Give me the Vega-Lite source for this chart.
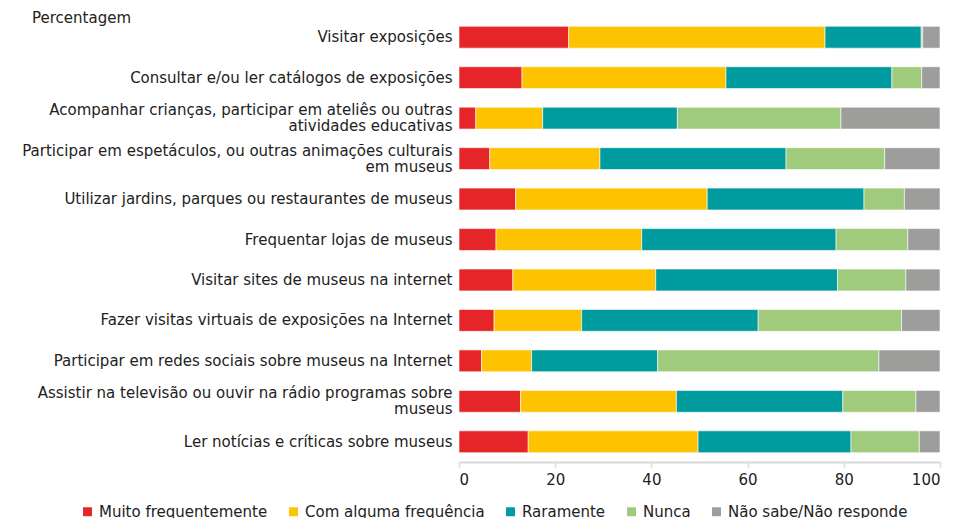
{
  "$schema": "https://vega.github.io/schema/vega-lite/v6.json",
  "width": 481,
  "height": 445,
  "autosize": {"type": "none"},
  "padding": {"left": 459, "top": 17, "right": 15, "bottom": 56},
  "background": "white",
  "title": {
    "text": "Percentagem",
    "anchor": "start",
    "frame": "group",
    "dx": -427,
    "dy": 16,
    "offset": 0,
    "baseline": "middle",
    "font": "DejaVu Sans",
    "fontSize": 15,
    "fontWeight": "normal",
    "color": "#222222"
  },
  "data": {
    "values": [
      {"atividade": "Visitar exposições", "resposta": "Muito frequentemente", "n": 1, "pct": 22.8},
      {"atividade": "Visitar exposições", "resposta": "Com alguma frequência", "n": 2, "pct": 53.3},
      {"atividade": "Visitar exposições", "resposta": "Raramente", "n": 3, "pct": 20.0},
      {"atividade": "Visitar exposições", "resposta": "Nunca", "n": 4, "pct": 0.3},
      {"atividade": "Visitar exposições", "resposta": "Não sabe/Não responde", "n": 5, "pct": 3.6},

      {"atividade": "Consultar e/ou ler catálogos de exposições", "resposta": "Muito frequentemente", "n": 1, "pct": 13.1},
      {"atividade": "Consultar e/ou ler catálogos de exposições", "resposta": "Com alguma frequência", "n": 2, "pct": 42.4},
      {"atividade": "Consultar e/ou ler catálogos de exposições", "resposta": "Raramente", "n": 3, "pct": 34.5},
      {"atividade": "Consultar e/ou ler catálogos de exposições", "resposta": "Nunca", "n": 4, "pct": 6.2},
      {"atividade": "Consultar e/ou ler catálogos de exposições", "resposta": "Não sabe/Não responde", "n": 5, "pct": 3.8},

      {"atividade": "Acompanhar crianças, participar em ateliês ou outras\natividades educativas", "resposta": "Muito frequentemente", "n": 1, "pct": 3.5},
      {"atividade": "Acompanhar crianças, participar em ateliês ou outras\natividades educativas", "resposta": "Com alguma frequência", "n": 2, "pct": 13.9},
      {"atividade": "Acompanhar crianças, participar em ateliês ou outras\natividades educativas", "resposta": "Raramente", "n": 3, "pct": 28.0},
      {"atividade": "Acompanhar crianças, participar em ateliês ou outras\natividades educativas", "resposta": "Nunca", "n": 4, "pct": 34.0},
      {"atividade": "Acompanhar crianças, participar em ateliês ou outras\natividades educativas", "resposta": "Não sabe/Não responde", "n": 5, "pct": 20.6},

      {"atividade": "Participar em espetáculos, ou outras animações culturais\nem museus", "resposta": "Muito frequentemente", "n": 1, "pct": 6.4},
      {"atividade": "Participar em espetáculos, ou outras animações culturais\nem museus", "resposta": "Com alguma frequência", "n": 2, "pct": 22.9},
      {"atividade": "Participar em espetáculos, ou outras animações culturais\nem museus", "resposta": "Raramente", "n": 3, "pct": 38.7},
      {"atividade": "Participar em espetáculos, ou outras animações culturais\nem museus", "resposta": "Nunca", "n": 4, "pct": 20.5},
      {"atividade": "Participar em espetáculos, ou outras animações culturais\nem museus", "resposta": "Não sabe/Não responde", "n": 5, "pct": 11.5},

      {"atividade": "Utilizar jardins, parques ou restaurantes de museus", "resposta": "Muito frequentemente", "n": 1, "pct": 11.8},
      {"atividade": "Utilizar jardins, parques ou restaurantes de museus", "resposta": "Com alguma frequência", "n": 2, "pct": 39.8},
      {"atividade": "Utilizar jardins, parques ou restaurantes de museus", "resposta": "Raramente", "n": 3, "pct": 32.6},
      {"atividade": "Utilizar jardins, parques ou restaurantes de museus", "resposta": "Nunca", "n": 4, "pct": 8.4},
      {"atividade": "Utilizar jardins, parques ou restaurantes de museus", "resposta": "Não sabe/Não responde", "n": 5, "pct": 7.4},

      {"atividade": "Frequentar lojas de museus", "resposta": "Muito frequentemente", "n": 1, "pct": 7.7},
      {"atividade": "Frequentar lojas de museus", "resposta": "Com alguma frequência", "n": 2, "pct": 30.3},
      {"atividade": "Frequentar lojas de museus", "resposta": "Raramente", "n": 3, "pct": 40.4},
      {"atividade": "Frequentar lojas de museus", "resposta": "Nunca", "n": 4, "pct": 14.9},
      {"atividade": "Frequentar lojas de museus", "resposta": "Não sabe/Não responde", "n": 5, "pct": 6.7},

      {"atividade": "Visitar sites de museus na internet", "resposta": "Muito frequentemente", "n": 1, "pct": 11.2},
      {"atividade": "Visitar sites de museus na internet", "resposta": "Com alguma frequência", "n": 2, "pct": 29.7},
      {"atividade": "Visitar sites de museus na internet", "resposta": "Raramente", "n": 3, "pct": 37.8},
      {"atividade": "Visitar sites de museus na internet", "resposta": "Nunca", "n": 4, "pct": 14.2},
      {"atividade": "Visitar sites de museus na internet", "resposta": "Não sabe/Não responde", "n": 5, "pct": 7.1},

      {"atividade": "Fazer visitas virtuais de exposições na Internet", "resposta": "Muito frequentemente", "n": 1, "pct": 7.3},
      {"atividade": "Fazer visitas virtuais de exposições na Internet", "resposta": "Com alguma frequência", "n": 2, "pct": 18.2},
      {"atividade": "Fazer visitas virtuais de exposições na Internet", "resposta": "Raramente", "n": 3, "pct": 36.7},
      {"atividade": "Fazer visitas virtuais de exposições na Internet", "resposta": "Nunca", "n": 4, "pct": 29.8},
      {"atividade": "Fazer visitas virtuais de exposições na Internet", "resposta": "Não sabe/Não responde", "n": 5, "pct": 8.0},

      {"atividade": "Participar em redes sociais sobre museus na Internet", "resposta": "Muito frequentemente", "n": 1, "pct": 4.7},
      {"atividade": "Participar em redes sociais sobre museus na Internet", "resposta": "Com alguma frequência", "n": 2, "pct": 10.4},
      {"atividade": "Participar em redes sociais sobre museus na Internet", "resposta": "Raramente", "n": 3, "pct": 26.2},
      {"atividade": "Participar em redes sociais sobre museus na Internet", "resposta": "Nunca", "n": 4, "pct": 46.0},
      {"atividade": "Participar em redes sociais sobre museus na Internet", "resposta": "Não sabe/Não responde", "n": 5, "pct": 12.7},

      {"atividade": "Assistir na televisão ou ouvir na rádio programas sobre\nmuseus", "resposta": "Muito frequentemente", "n": 1, "pct": 12.8},
      {"atividade": "Assistir na televisão ou ouvir na rádio programas sobre\nmuseus", "resposta": "Com alguma frequência", "n": 2, "pct": 32.4},
      {"atividade": "Assistir na televisão ou ouvir na rádio programas sobre\nmuseus", "resposta": "Raramente", "n": 3, "pct": 34.6},
      {"atividade": "Assistir na televisão ou ouvir na rádio programas sobre\nmuseus", "resposta": "Nunca", "n": 4, "pct": 15.2},
      {"atividade": "Assistir na televisão ou ouvir na rádio programas sobre\nmuseus", "resposta": "Não sabe/Não responde", "n": 5, "pct": 5.0},

      {"atividade": "Ler notícias e críticas sobre museus", "resposta": "Muito frequentemente", "n": 1, "pct": 14.4},
      {"atividade": "Ler notícias e críticas sobre museus", "resposta": "Com alguma frequência", "n": 2, "pct": 35.3},
      {"atividade": "Ler notícias e críticas sobre museus", "resposta": "Raramente", "n": 3, "pct": 31.8},
      {"atividade": "Ler notícias e críticas sobre museus", "resposta": "Nunca", "n": 4, "pct": 14.2},
      {"atividade": "Ler notícias e críticas sobre museus", "resposta": "Não sabe/Não responde", "n": 5, "pct": 4.3}
    ]
  },
  "mark": {"type": "bar", "stroke": "white", "strokeWidth": 0.6},
  "encoding": {
    "y": {
      "field": "atividade",
      "type": "nominal",
      "sort": null,
      "title": null,
      "scale": {"paddingInner": 0.46, "paddingOuter": 0.23},
      "axis": {
        "domain": false,
        "ticks": false,
        "labelPadding": 7,
        "labelLimit": 500,
        "labelFont": "DejaVu Sans",
        "labelFontSize": 15,
        "labelColor": "#222222",
        "labelLineHeight": 16,
        "labelOffset": {"condition": {"test": "indexof(datum.label, '\\n') >= 0", "value": -8}, "value": 0},
        "labelExpr": "split(datum.label, '\\n')"
      }
    },
    "x": {
      "field": "pct",
      "type": "quantitative",
      "stack": "zero",
      "title": null,
      "scale": {"domain": [0, 100], "nice": false},
      "axis": {
        "values": [0, 20, 40, 60, 80, 100],
        "grid": false,
        "domainColor": "#d9d9d9",
        "domainWidth": 2,
        "tickColor": "#d9d9d9",
        "tickWidth": 1.5,
        "tickSize": 5,
        "labelPadding": 5,
        "labelFont": "DejaVu Sans",
        "labelFontSize": 15,
        "labelColor": "#222222"
      }
    },
    "order": {"field": "n", "type": "quantitative", "sort": "ascending"},
    "color": {
      "field": "resposta",
      "type": "nominal",
      "scale": {
        "domain": ["Muito frequentemente", "Com alguma frequência", "Raramente", "Nunca", "Não sabe/Não responde"],
        "range": ["#e52527", "#fdc300", "#009b9e", "#a0ca7c", "#9d9d9c"]
      },
      "legend": {
        "title": null,
        "orient": "none",
        "direction": "horizontal",
        "legendX": -379,
        "legendY": 487,
        "symbolType": "square",
        "symbolSize": 80,
        "symbolStrokeWidth": 0,
        "symbolOpacity": 1,
        "labelFont": "DejaVu Sans",
        "labelFontSize": 15,
        "labelColor": "#222222",
        "labelOffset": 4,
        "columnPadding": 18,
        "labelLimit": 300
      }
    }
  },
  "config": {"view": {"stroke": null}}
}
